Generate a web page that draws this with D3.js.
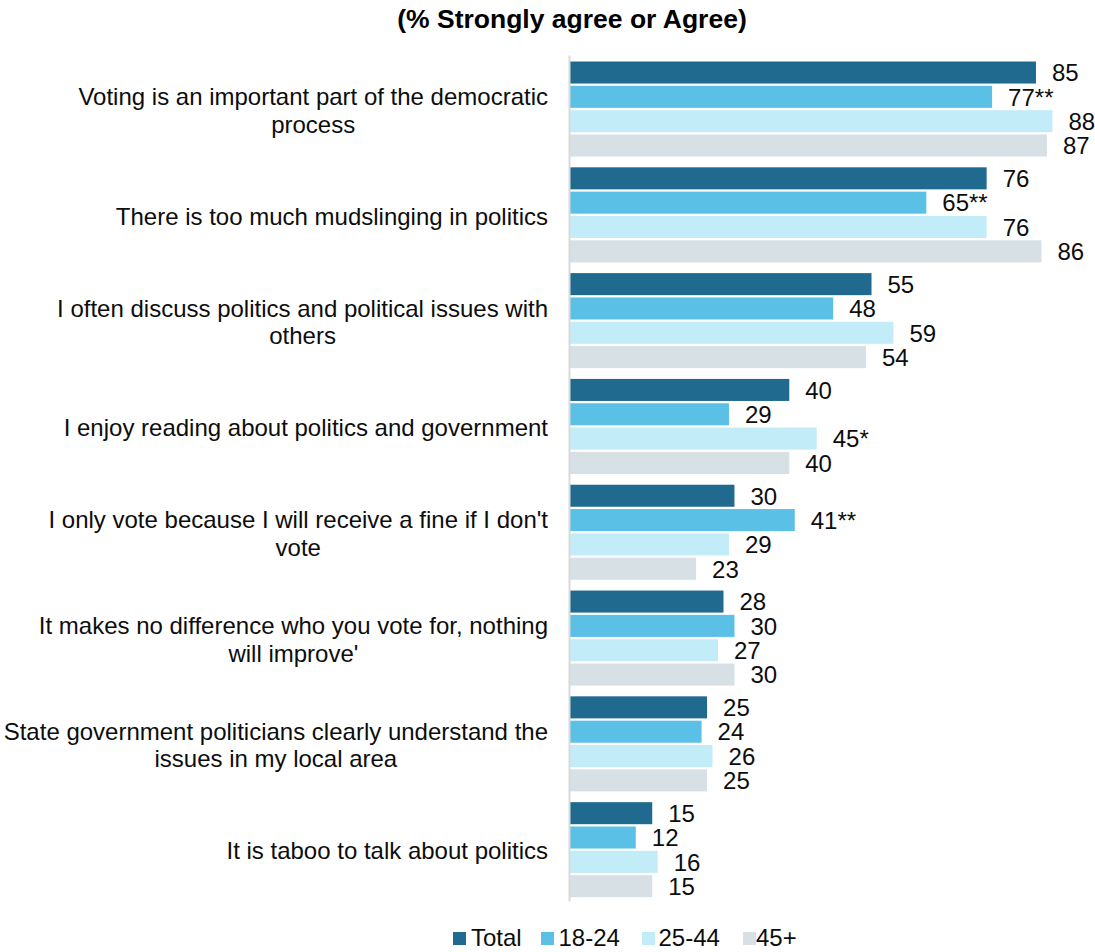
<!DOCTYPE html>
<html>
<head>
<meta charset="utf-8">
<script src="https://cdn.jsdelivr.net/npm/d3@7"></script>
<style>
  html, body { margin: 0; padding: 0; background: #fff; }
  svg { display: block; font-family: "Liberation Sans", Arial, sans-serif; }
</style>
</head>
<body>
<svg id="chart" width="1095" height="952"></svg>
<script>
// Statements (line breaks as wrapped on the chart)
const categories = [
  "Voting is an important part of the democratic\nprocess",
  "There is too much mudslinging in politics",
  "I often discuss politics and political issues with\nothers",
  "I enjoy reading about politics and government",
  "I only vote because I will receive a fine if I don't\nvote",
  "It makes no difference who you vote for, nothing\nwill improve'",
  "State government politicians clearly understand the\nissues in my local area",
  "It is taboo to talk about politics"
];

const seriesNames = ["Total", "18-24", "25-44", "45+"];

// % strongly agree or agree, per series, in category order
const totalValues = [85, 76, 55, 40, 30, 28, 25, 15];
const age1824Values = [77, 65, 48, 29, 41, 30, 24, 12];
const age2544Values = [88, 76, 59, 45, 29, 27, 26, 16];
const age45Values = [87, 86, 54, 40, 23, 30, 25, 15];

// significance markers attached to value labels
const totalMarks = ["", "", "", "", "", "", "", ""];
const age1824Marks = ["**", "**", "", "", "**", "", "", ""];
const age2544Marks = ["", "", "", "*", "", "", "", ""];
const age45Marks = ["", "", "", "", "", "", "", ""];

const title = "(% Strongly agree or Agree)";

const seriesValues = [totalValues, age1824Values, age2544Values, age45Values];
const seriesMarks = [totalMarks, age1824Marks, age2544Marks, age45Marks];
const colors = ["#216a8f", "#5bc0e6", "#c2ecf8", "#d6e0e5"];
const textColor = "#0d0d0d";
const fontSize = 24;

const svg = d3.select("#chart");

const x = d3.scaleLinear().domain([0, 100]).range([570, 570 + 548.2]);
const y = d3.scaleBand().domain(categories).range([61.5, 899.5]).paddingInner(0.08).paddingOuter(0);
const ySub = d3.scaleBand().domain(seriesNames).range([0, y.bandwidth()]).padding(0);

// title
svg.append("text")
  .attr("x", 572).attr("y", 28)
  .attr("text-anchor", "middle")
  .attr("font-size", 26.5).attr("font-weight", "bold")
  .attr("fill", "#000")
  .text(title);

// bars and value labels
const groups = svg.append("g").selectAll("g")
  .data(categories)
  .join("g")
  .attr("transform", d => `translate(0,${y(d)})`);

groups.each(function(cat, ci) {
  const g = d3.select(this);
  seriesNames.forEach((s, si) => {
    const v = seriesValues[si][ci];
    g.append("rect")
      .attr("x", x(0))
      .attr("y", ySub(s))
      .attr("width", x(v) - x(0))
      .attr("height", ySub.bandwidth() - 2.3)
      .attr("fill", colors[si]);
    g.append("text")
      .attr("x", x(v) + 16)
      .attr("y", ySub(s) + ySub.bandwidth() / 2 - 1)
      .attr("dy", "0.36em")
      .attr("font-size", fontSize)
      .attr("fill", textColor)
      .text(v + seriesMarks[si][ci]);
  });
});

// category labels: lines centred on each other, widest line ending at the axis gap
const labelRight = 548;
const lineHeight = 27.6;
const labels = svg.append("g").selectAll("text")
  .data(categories)
  .join("text")
  .attr("text-anchor", "middle")
  .attr("font-size", fontSize)
  .attr("fill", textColor);

labels.each(function(cat) {
  const lines = cat.split("\n");
  const cy = y(cat) + y.bandwidth() / 2;
  const t = d3.select(this);
  const spans = lines.map((ln, i) =>
    t.append("tspan")
      .attr("y", cy + (i - (lines.length - 1) / 2) * lineHeight)
      .attr("dy", "0.36em")
      .text(ln)
  );
  const maxW = d3.max(spans, sp => sp.node().getComputedTextLength());
  spans.forEach(sp => sp.attr("x", labelRight - maxW / 2));
});

// vertical category axis line
const yAxis = d3.axisLeft(d3.scaleBand().domain(categories).range([55, 901])).tickSize(0).tickFormat("");
const axisG = svg.append("g").attr("transform", `translate(${x(0) - 1},0)`).call(yAxis);
axisG.select(".domain").attr("stroke", "#d9d9d9").attr("stroke-width", 2);

// legend
const legendSwatchX = [453, 541, 642, 743];
const legendTextX = [471, 558.5, 658.5, 756];
const legend = svg.append("g").selectAll("g")
  .data(seriesNames)
  .join("g");
legend.append("rect")
  .attr("x", (d, i) => legendSwatchX[i])
  .attr("y", 932)
  .attr("width", 13).attr("height", 13)
  .attr("fill", (d, i) => colors[i]);
legend.append("text")
  .attr("x", (d, i) => legendTextX[i])
  .attr("y", 946)
  .attr("font-size", fontSize)
  .attr("fill", textColor)
  .text(d => d);
</script>
</body>
</html>
